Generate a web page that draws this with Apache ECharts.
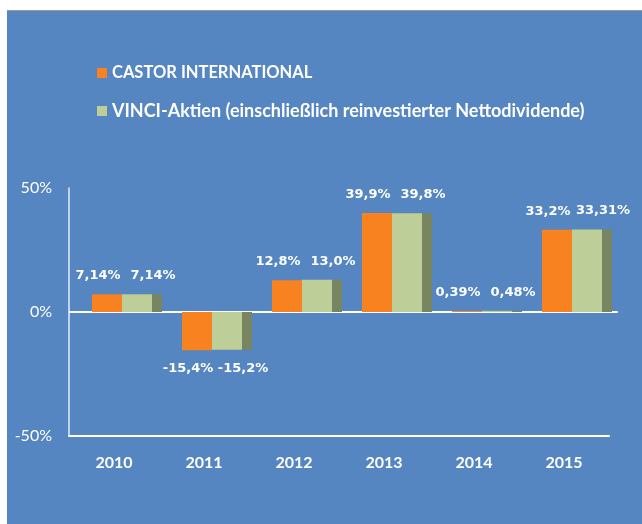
<!DOCTYPE html>
<html>
<head>
<meta charset="utf-8">
<script src="https://cdn.jsdelivr.net/npm/echarts@6/dist/echarts.min.js"></script>
<style>
  html, body { margin: 0; padding: 0; background: #fff; }
  #chart {
    position: absolute;
    left: 7px;
    top: 10px;
    width: 635px;
    height: 513px;
    border-top: 1px solid #9a9a9a;
    background: #5586c1;
  }
</style>
</head>
<body>
<div id="chart"></div>
<script>
const years = ['2010', '2011', '2012', '2013', '2014', '2015']
const castorValues = [7.14, -15.4, 12.8, 39.9, 0.39, 33.2]
const vinciValues = [7.14, -15.2, 13.0, 39.8, 0.48, 33.31]
const castorLabels = ['7,14%', '-15,4%', '12,8%', '39,9%', '0,39%', '33,2%']
const vinciLabels = ['7,14%', '-15,2%', '13,0%', '39,8%', '0,48%', '33,31%']
const yTicks = { min: -50, max: 50, interval: 50 }

const seriesNames = [
  'CASTOR INTERNATIONAL',
  'VINCI-Aktien (einschließlich reinvestierter Nettodividende)'
]

const chart = echarts.init(document.getElementById('chart'), null, { renderer: 'canvas' })

// bar data with label below for negative values
function barData(values, labels) {
  return values.map((v, i) => ({
    value: v,
    label: {
      position: v < 0 ? 'bottom' : 'top',
      formatter: labels[i]
    }
  }))
}

const labelStyle = {
  show: true,
  color: '#fff',
  fontFamily: 'DejaVu Sans',
  fontWeight: 'bold',
  fontSize: 13,
  distance: 12
}

chart.setOption({
  animation: false,
  textStyle: { fontFamily: 'Lato' },
  legend: {
    orient: 'vertical',
    left: 85,
    top: 47,
    itemGap: 18,
    itemWidth: 10,
    itemHeight: 10,
    icon: 'rect',
    itemStyle: { shadowColor: 'rgba(0,0,0,0)', shadowOffsetX: 0 },
    textStyle: {
      color: '#fff',
      fontFamily: 'Lato',
      fontWeight: 'bold',
      fontSize: 16,
      lineHeight: 20
    },
    data: [
      { name: seriesNames[0], textStyle: { fontSize: 16.5, lineHeight: 20 } },
      { name: seriesNames[1], textStyle: { fontSize: 18, lineHeight: 20 } }
    ]
  },
  grid: [
    // axes grid
    { left: 62, right: 33, top: 177, bottom: 88 },
    // bars grid, shifted a bit to the right like the original
    { left: 70, right: 25, top: 177, bottom: 88 }
  ],
  xAxis: [{
    type: 'category',
    gridIndex: 0,
    data: years,
    axisLine: { onZero: false, lineStyle: { color: '#fff', width: 2 } },
    axisTick: { show: false },
    axisLabel: {
      color: '#fff',
      fontFamily: 'Lato',
      fontWeight: 'bold',
      fontSize: 16,
      margin: 19
    }
  }, {
    type: 'category',
    gridIndex: 1,
    data: years,
    axisLine: { show: true, onZero: true, lineStyle: { color: '#fff', width: 2 } },
    axisTick: { show: false },
    axisLabel: { show: false }
  }],
  yAxis: [{
    type: 'value',
    gridIndex: 0,
    min: yTicks.min,
    max: yTicks.max,
    interval: yTicks.interval,
    axisLine: { show: true, lineStyle: { color: 'rgba(255,255,255,0.85)', width: 1.5 } },
    axisTick: { show: false },
    axisLabel: {
      color: '#fff',
      fontFamily: 'Lato',
      fontSize: 16,
      margin: 17,
      formatter: v => v + '%'
    },
    splitLine: {
      show: true,
      lineStyle: { color: ['#fff', '#fff', 'rgba(0,0,0,0)'], width: 2 }
    }
  }, {
    type: 'value',
    gridIndex: 1,
    min: yTicks.min,
    max: yTicks.max,
    interval: yTicks.interval,
    show: false
  }],
  series: [{
    name: seriesNames[0],
    type: 'bar',
    xAxisIndex: 1,
    yAxisIndex: 1,
    barWidth: 30,
    barGap: '0%',
    itemStyle: { color: '#f98220' },
    label: Object.assign({ offset: [-9, 0] }, labelStyle),
    data: barData(castorValues, castorLabels)
  }, {
    name: seriesNames[1],
    type: 'bar',
    xAxisIndex: 1,
    yAxisIndex: 1,
    barWidth: 30,
    barGap: '0%',
    itemStyle: {
      color: '#bdce98',
      // darker side of the 3d bar
      shadowColor: '#778660',
      shadowBlur: 0,
      shadowOffsetX: 10,
      shadowOffsetY: 0
    },
    label: Object.assign({ offset: [16, 0] }, labelStyle),
    data: barData(vinciValues, vinciLabels)
  }]
})
</script>
</body>
</html>
